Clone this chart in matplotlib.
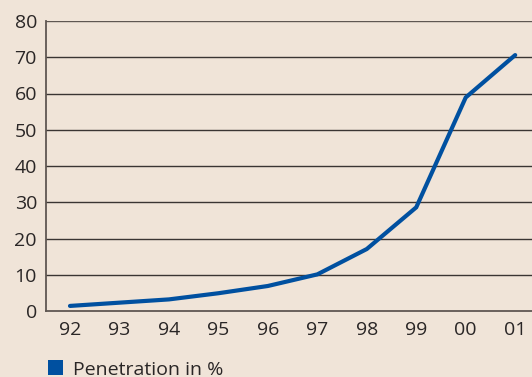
import matplotlib
matplotlib.use("Agg")
import matplotlib.pyplot as plt
from matplotlib.patches import Rectangle

years = ["92", "93", "94", "95", "96", "97", "98", "99", "00", "01"]
penetration = [1.4, 2.3, 3.2, 4.9, 6.9, 10.1, 17.1, 28.6, 58.9, 70.6]
y_ticks = [0, 10, 20, 30, 40, 50, 60, 70, 80]
series_label = "Penetration in %"

bg = "#f0e4d8"
line_color = "#0050a0"
grid_color = "#3a3533"
spine_color = "#5f5752"
text_color = "#2a2626"

plt.rcParams["font.family"] = ["Open Sans", "DejaVu Sans"]

W, H = 532, 377
fig = plt.figure(figsize=(W / 100, H / 100), dpi=100, facecolor=bg)
ax = fig.add_axes([46 / W, 66 / H, 1 - 46 / W, (311 - 21) / H])
ax.set_facecolor(bg)

x = list(range(len(years)))
ax.plot(x, penetration, color=line_color, lw=3.0, solid_capstyle="round",
        solid_joinstyle="miter", zorder=3)

ax.set_xlim(-0.485, 9.34)
ax.set_ylim(0, 80)
ax.set_xticks(x)
ax.set_xticklabels(years)
ax.set_yticks(y_ticks)
for v in y_ticks[1:]:
    ax.axhline(v, color=grid_color if v != 80 else spine_color, lw=1.0, zorder=1)

for s in ["top", "right"]:
    ax.spines[s].set_visible(False)
for s in ["left", "bottom"]:
    ax.spines[s].set_color(spine_color)
    ax.spines[s].set_linewidth(1.3)

ax.tick_params(axis="both", length=0, labelsize=14, colors=text_color)
ax.tick_params(axis="y", pad=6.5)
ax.tick_params(axis="x", pad=7.5)

# legend key and label along the bottom edge
fig.patches.append(Rectangle((48 / W, 2 / H), 15 / W, 15 / H,
                             transform=fig.transFigure,
                             facecolor=line_color, edgecolor="none"))
fig.text(73 / W, 2 / H, series_label, fontsize=14, color=text_color,
         ha="left", va="baseline")

fig.savefig("out.png", dpi=100, facecolor=bg)
